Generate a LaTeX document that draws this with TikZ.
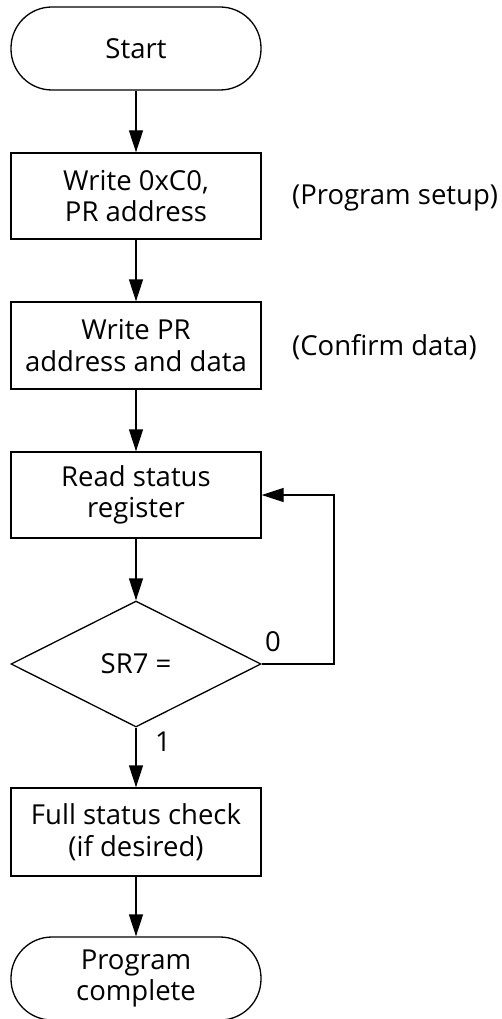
\documentclass[tikz,border=0pt]{standalone}
\usepackage{fontspec}
\setmainfont{Open Sans}
\usetikzlibrary{shapes.geometric,arrows.meta}
\begin{document}
\begin{tikzpicture}[x=1pt,y=-1pt,
  every node/.style={font=\fontsize{27.5}{31.5}\selectfont},
  term/.style={draw,line width=1.3pt,rectangle,rounded corners=41pt,minimum width=250pt,minimum height=83pt,inner sep=0pt,align=center},
  proc/.style={draw,line width=1.3pt,rectangle,minimum width=250pt,minimum height=86pt,inner sep=0pt,align=center},
  dec/.style={draw,line width=1.3pt,diamond,aspect=1.98,minimum width=250pt,minimum height=126pt,inner sep=0pt},
  flow/.style={line width=1.3pt,-{Triangle[length=22pt,width=14pt]}},
  note/.style={inner sep=0pt}
]
\useasboundingbox (0,0) rectangle (502,1019);
\node[term] (start) at (136,48.5) {Start};
\node[proc] (b1) at (136,196) {Write 0xC0,\\PR address};
\node[proc,minimum height=87pt] (b2) at (136,345.5) {Write PR\\address and data};
\node[proc] (b3) at (136,495) {Read status\\register};
\node[dec] (d) at (136,664) {SR7 =};
\node[proc,minimum height=88pt] (b4) at (136,832) {Full status check\\(if desired)};
\node[term] (end) at (136,978.5) {Program\\complete};
\node[note,anchor=west] (n1) at (292,198) {(Program setup)};
\node[note,anchor=west] (n2) at (292,347) {(Confirm data)};
\node[note] (l0) at (273,642) {0};
\node[note] (l1) at (163,742) {1};
\coordinate (c) at (334,0);
\draw[flow] (start) -- (b1);
\draw[flow] (b1) -- (b2);
\draw[flow] (b2) -- (b3);
\draw[flow] (b3) -- (d);
\draw[flow] (d) -- (b4);
\draw[flow] (b4) -- (end);
\draw[flow] (d.east) -- (d.east -| c) -- (b3.east -| c) -- (b3.east);
\end{tikzpicture}
\end{document}
